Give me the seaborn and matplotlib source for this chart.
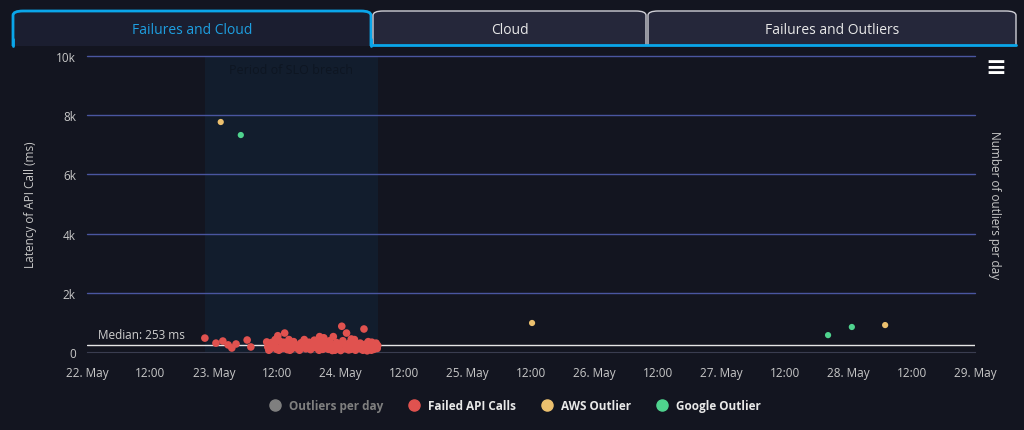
import matplotlib
matplotlib.use('Agg')
import matplotlib.pyplot as plt
import matplotlib.dates as mdates
from matplotlib.patches import FancyBboxPatch, Rectangle
from matplotlib.lines import Line2D
import pandas as pd
import seaborn as sns

# Daten (Stunden seit 22. Mai 00:00, Latenz in ms)
failed_hours = [22.3, 24.4, 25.7, 26.7, 27.4, 28.2, 30.3, 31.0, 34.0, 34.2, 34.6,
                34.9, 35.2, 35.5, 35.9, 36.1, 36.4, 36.8, 37.0, 37.4, 37.7, 38.0,
                38.2, 38.6, 38.9, 39.1, 39.5, 39.8, 40.2, 40.5, 40.7, 41.1, 41.4,
                41.6, 42.0, 42.3, 42.7, 43.0, 43.2, 43.6, 43.9, 44.2, 44.5, 44.8,
                45.1, 45.4, 45.7, 46.0, 46.3, 46.6, 46.9, 47.2, 47.5, 47.8, 48.2,
                48.4, 48.7, 49.1, 49.3, 49.6, 49.9, 50.2, 50.5, 50.8, 51.1, 51.4,
                51.7, 52.0, 52.4, 52.6, 52.9, 53.2, 53.5, 53.8, 54.1, 54.4, 54.7,
                55.0, 35.6, 37.9, 40.0, 42.5, 44.0, 46.4, 48.9, 50.6, 53.0, 54.9,
                34.4, 35.0, 36.6, 37.2, 38.4, 39.3, 40.9, 41.8, 43.4, 44.6, 45.9,
                47.0, 47.7, 49.5, 50.0, 51.3, 51.9, 52.8, 53.6, 54.3, 54.6, 36.3,
                39.0, 41.2, 43.8, 45.5, 48.0, 50.9, 52.2, 53.9]
failed_latency = [470, 300, 370, 240, 135, 270, 405, 170, 340, 170, 100,
                  320, 150, 250, 90, 550, 380, 200, 120, 640, 300, 180,
                  420, 90, 260, 350, 140, 230, 60, 310, 200, 420, 110,
                  260, 330, 80, 190, 400, 150, 280, 60, 350, 220, 480,
                  130, 300, 90, 250, 170, 520, 60, 320, 200, 100, 870,
                  380, 250, 640, 150, 300, 90, 200, 330, 60, 250, 130,
                  300, 180, 777, 260, 90, 350, 150, 60, 240, 180, 300,
                  220, 420, 80, 150, 210, 520, 50, 110, 420, 40, 120,
                  60, 230, 110, 330, 60, 170, 280, 140, 230, 90, 380,
                  140, 260, 70, 440, 200, 100, 160, 280, 90, 200, 60,
                  240, 300, 110, 200, 50, 170, 60, 330]
aws_hours = [25.3, 84.2, 151.0]
aws_latency = [7770, 980, 910]
google_hours = [29.1, 140.2, 144.7]
google_latency = [7330, 570, 845]

median_ms = 253
band_hours = [22.3, 55.0]
legend_names = ['Outliers per day', 'Failed API Calls', 'AWS Outlier', 'Google Outlier']
tab_names = ['Failures and Cloud', 'Cloud', 'Failures and Outliers']

start = pd.Timestamp('2024-05-22')
def to_time(hours):
    return [start + pd.Timedelta(hours=h) for h in hours]

df_failed = pd.DataFrame({'time': to_time(failed_hours), 'latency': failed_latency, 'serie': 'Failed API Calls'})
df_out = pd.concat([
    pd.DataFrame({'time': to_time(aws_hours), 'latency': aws_latency, 'serie': 'AWS Outlier'}),
    pd.DataFrame({'time': to_time(google_hours), 'latency': google_latency, 'serie': 'Google Outlier'}),
])

bg = '#131520'
farben = {'Outliers per day': '#7f7f7f', 'Failed API Calls': '#e0524f',
          'AWS Outlier': '#ecc06e', 'Google Outlier': '#4fd38e'}

sns.set_style('dark')
plt.rcParams['font.family'] = ['Open Sans', 'DejaVu Sans']

fig = plt.figure(figsize=(10.24, 4.31), dpi=100, facecolor=bg)
ax = fig.add_axes([87 / 1024, 78 / 431, 888 / 1024, 296 / 431])
ax.set_facecolor(bg)

# Band
ax.axvspan(start + pd.Timedelta(hours=band_hours[0]), start + pd.Timedelta(hours=band_hours[1]),
           color='#121d2d', zorder=0, lw=0)
ax.text(start + pd.Timedelta(hours=(band_hours[0] + band_hours[1]) / 2), 9550,
        'Period of SLO breach', color='#0e1622', fontsize=9, ha='center', va='center', zorder=1)

for v in range(2000, 10001, 2000):
    ax.axhline(v, color='#4a56a0', lw=1, zorder=1, clip_on=False)

ax.axhline(median_ms, color='#e6e6e6', lw=1, zorder=2)
ax.text(start + pd.Timedelta(hours=2), median_ms + 130, f'Median: {median_ms} ms',
        color='#cfcfcf', fontsize=8.5, va='bottom', ha='left')

sns.scatterplot(data=df_failed, x='time', y='latency', hue='serie', palette=farben,
                s=30, edgecolor='none', legend=False, ax=ax, zorder=3, clip_on=False)
sns.scatterplot(data=df_out, x='time', y='latency', hue='serie', palette=farben,
                s=20, edgecolor='none', legend=False, ax=ax, zorder=3, clip_on=False)

ax.set_xlim(start, start + pd.Timedelta(days=7))
ax.set_ylim(0, 10000)
ax.set_yticks(range(0, 10001, 2000))
ax.set_yticklabels(['0', '2k', '4k', '6k', '8k', '10k'])
ax.xaxis.set_major_locator(mdates.HourLocator(byhour=[0, 12]))

def fmt(x, pos):
    d = mdates.num2date(x)
    return d.strftime('%H:%M') if d.hour == 12 else f'{d.day}. May'
ax.xaxis.set_major_formatter(plt.FuncFormatter(fmt))
ax.tick_params(axis='x', colors='#3a3d50', labelcolor='#c8c8c8', labelsize=8.5, length=8, width=1, pad=2)
ax.tick_params(axis='y', length=0, labelcolor='#c8c8c8', labelsize=8.5, pad=8)
for s in ['top', 'right', 'left']:
    ax.spines[s].set_visible(False)
ax.spines['bottom'].set_color('#3a3d50')
ax.set_xlabel('')
ax.set_ylabel('Latency of API Call (ms)', color='#c8c8c8', fontsize=8.5, labelpad=14)
ax.grid(False)

fig.text(995 / 1024, 1 - 205 / 431, 'Number of outliers per day', rotation=-90,
         color='#c8c8c8', fontsize=8.5, ha='center', va='center')
fig.text(996 / 1024, 1 - 68 / 431, '\u2261', color='white', fontsize=18,
         ha='center', va='center', fontweight='bold', family='DejaVu Sans')

# Reiter oben
tabs = [(13, 371), (373, 646), (648, 1016)]
for i, (x0, x1) in enumerate(tabs):
    aktiv = i == 0
    p = FancyBboxPatch((x0 / 1024, 1 - 52 / 431), (x1 - x0) / 1024, 40 / 431,
                       boxstyle='round,pad=0,rounding_size=0.01',
                       transform=fig.transFigure,
                       facecolor='#1b1e30' if aktiv else '#25273a',
                       edgecolor='#0aa6ea' if aktiv else '#cfcfd6',
                       lw=2 if aktiv else 1, zorder=1)
    fig.patches.append(p)
    fig.text((x0 + x1) / 2 / 1024, 1 - 30 / 431, tab_names[i],
             color='#1e9fe0' if aktiv else '#e8e8e8', fontsize=10, ha='center', va='center')
# untere Kante abdecken
fig.patches.append(Rectangle((0, 1 - 54 / 431), 1, 7 / 431, transform=fig.transFigure,
                             facecolor=bg, edgecolor='none', zorder=2))
fig.add_artist(Line2D([371 / 1024, 1016 / 1024], [1 - 46 / 431, 1 - 46 / 431],
                      transform=fig.transFigure, color='#0aa6ea', lw=2, zorder=3))
fig.add_artist(Line2D([13 / 1024, 13 / 1024], [1 - 47 / 431, 1 - 40 / 431],
                      transform=fig.transFigure, color='#0aa6ea', lw=2, zorder=3))
fig.add_artist(Line2D([371 / 1024, 371 / 1024], [1 - 47 / 431, 1 - 40 / 431],
                      transform=fig.transFigure, color='#0aa6ea', lw=2, zorder=3))

# Legende
handles = [Line2D([], [], marker='o', ls='', color=farben[n], markersize=8) for n in legend_names]
leg = fig.legend(handles, legend_names, loc='center', bbox_to_anchor=(0.5, 1 - 407 / 431),
                 ncol=4, frameon=False, handletextpad=0.2, columnspacing=1.6,
                 prop={'weight': 'bold', 'size': 8.5})
for t, n in zip(leg.get_texts(), legend_names):
    t.set_color('#7f7f7f' if n == 'Outliers per day' else '#e8e8e8')

fig.savefig('out.png', dpi=100, facecolor=bg)
